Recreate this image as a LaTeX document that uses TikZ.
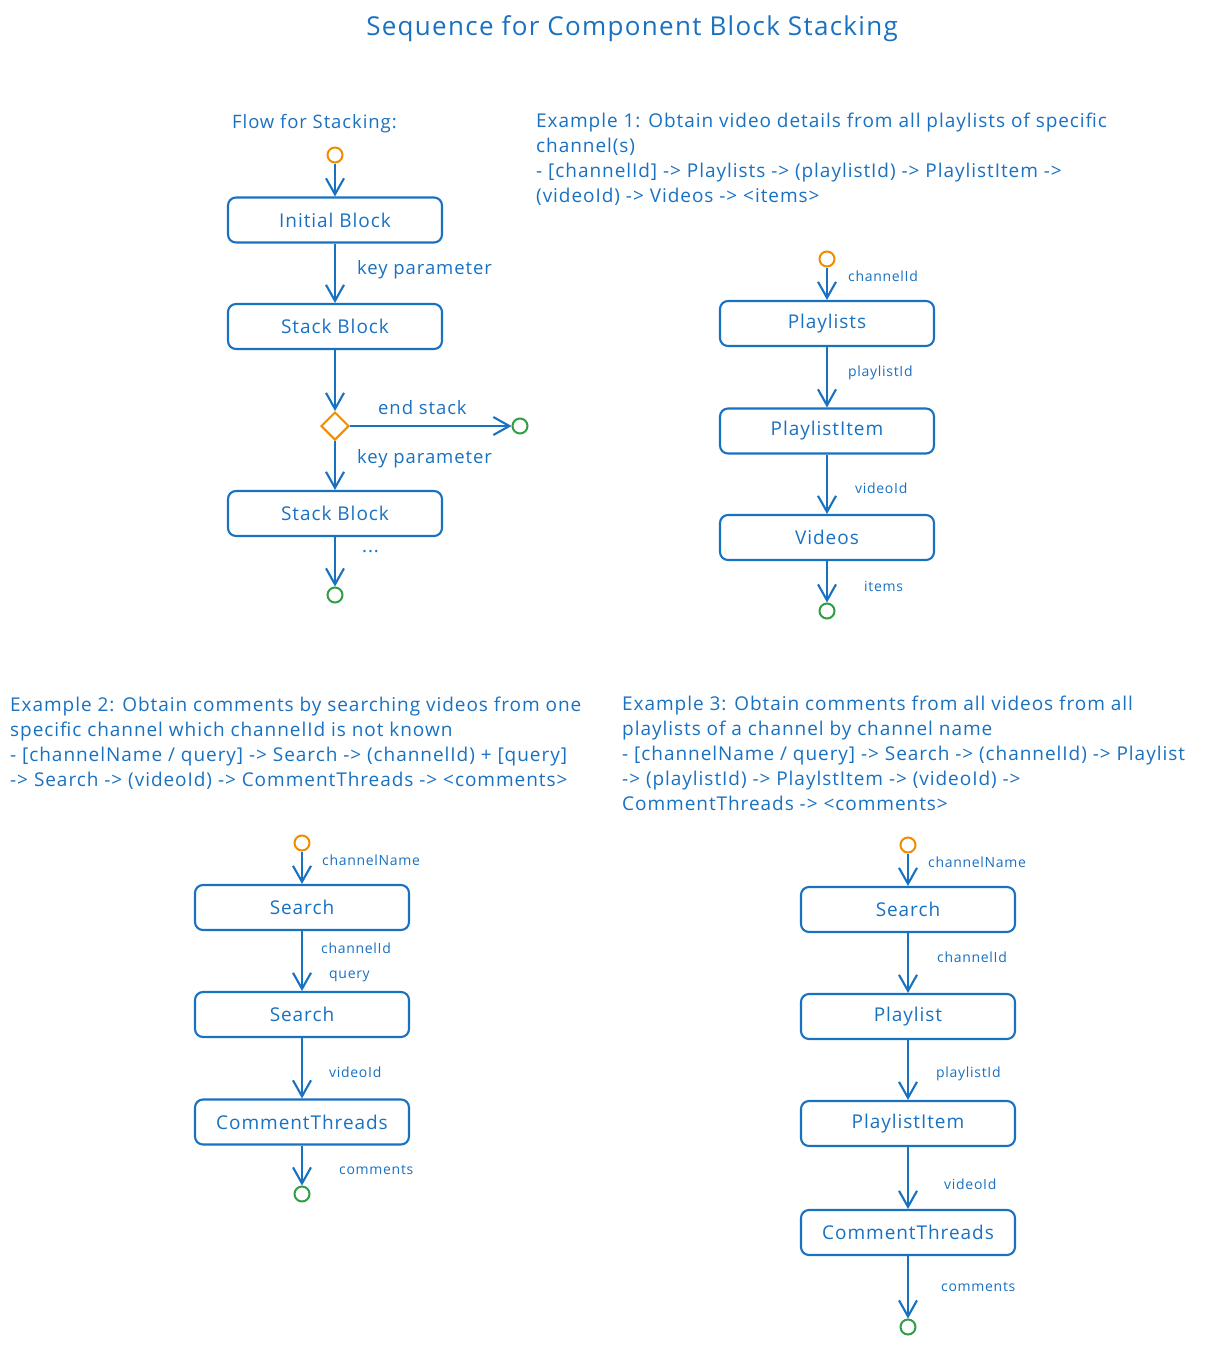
\documentclass[tikz,border=0pt]{standalone}
\usepackage{fontspec}
\setmainfont{Open Sans}[LetterSpace=5]
\usetikzlibrary{arrows.meta,shapes.geometric}
\definecolor{exblue}{HTML}{1971C2}
\definecolor{exorange}{HTML}{F08C00}
\definecolor{exgreen}{HTML}{2F9E44}
\begin{document}
\begin{tikzpicture}[x=1pt,y=-1pt,
 block/.style={draw=exblue, line width=2.1pt, rounded corners=8pt, minimum width=214pt, minimum height=45pt, inner sep=0pt, text=exblue, font=\fontsize{19}{22}\selectfont},
 startc/.style={circle, draw=exorange, line width=2pt, minimum size=15pt, inner sep=0pt},
 endc/.style={circle, draw=exgreen, line width=2pt, minimum size=15pt, inner sep=0pt},
 decision/.style={diamond, draw=exorange, line width=2pt, minimum width=28pt, minimum height=28pt, inner sep=0pt},
 flow/.style={draw=exblue, line width=2.1pt, -{Straight Barb[length=16pt, width=18pt, line width=2.1pt]}},
 lbl/.style={text=exblue, anchor=west, inner sep=0pt, font=\fontsize{18.5}{22}\selectfont},
 slbl/.style={text=exblue, anchor=west, inner sep=0pt, font=\fontsize{14}{17}\selectfont},
 para/.style={text=exblue, anchor=north west, inner sep=0pt, align=left, font=\fontsize{19}{25}\selectfont}]
\fill[white] (0,0) rectangle (1216,1345);
\useasboundingbox (0,0) rectangle (1216,1345);

% title
\node[text=exblue, font=\fontsize{26}{30}\selectfont] (title) at (632,29) {Sequence for Component Block Stacking};

% ---- Flow for stacking ----
\node[lbl, anchor=west] (flowt) at (232,124) {Flow for Stacking:};
\node[startc] (f0) at (335,155) {};
\node[block] (fib) at (335,220) {Initial Block};
\node[block] (fsb1) at (335,326.5) {Stack Block};
\node[decision] (fd) at (335,426) {};
\node[endc] (fe0) at (520,426) {};
\node[block] (fsb2) at (335,513.5) {Stack Block};
\node[endc] (fe1) at (335,595) {};
\draw[flow] (f0) -- (fib);
\draw[flow] (fib) -- (fsb1);
\draw[flow] (fsb1) -- (fd);
\draw[flow] (fd) -- (fe0);
\draw[flow] (fd) -- (fsb2);
\draw[flow] (fsb2) -- (fe1);
\node[lbl] (fl1) at (357,270) {key parameter};
\node[lbl] (fl2) at (378,408) {end stack};
\node[lbl] (fl3) at (357,459) {key parameter};
\node[lbl] (fl4) at (362,552) {...};

% ---- Example 1 ----
\node[para] (ex1) at (536,113) {Example 1: Obtain video details from all playlists of specific\\channel(s)\\- [channelId] -> Playlists -> (playlistId) -> PlaylistItem ->\\(videoId) -> Videos -> <items>};
\node[startc] (a0) at (827,259) {};
\node[block] (a1) at (827,323.5) {Playlists};
\node[block] (a2) at (827,431) {PlaylistItem};
\node[block] (a3) at (827,537.5) {Videos};
\node[endc] (a4) at (827,611) {};
\draw[flow] (a0) -- (a1);
\draw[flow] (a1) -- (a2);
\draw[flow] (a2) -- (a3);
\draw[flow] (a3) -- (a4);
\node[slbl] (al1) at (848,276) {channelId};
\node[slbl] (al2) at (848,373) {playlistId};
\node[slbl] (al3) at (855,488) {videoId};
\node[slbl] (al4) at (864,586) {items};

% ---- Example 2 ----
\node[para] (ex2) at (10,697) {Example 2: Obtain comments by searching videos from one\\specific channel which channelId is not known\\- [channelName / query] -> Search -> (channelId) + [query]\\-> Search -> (videoId) -> CommentThreads -> <comments>};
\node[startc] (b0) at (302,843) {};
\node[block] (b1) at (302,907.5) {Search};
\node[block] (b2) at (302,1014.5) {Search};
\node[block] (b3) at (302,1122) {CommentThreads};
\node[endc] (b4) at (302,1194) {};
\draw[flow] (b0) -- (b1);
\draw[flow] (b1) -- (b2);
\draw[flow] (b2) -- (b3);
\draw[flow] (b3) -- (b4);
\node[slbl] (bl1) at (322,860) {channelName};
\node[slbl] (bl2) at (321,948) {channelId};
\node[slbl] (bl3) at (329,976) {query};
\node[slbl] (bl4) at (329,1072) {videoId};
\node[slbl] (bl5) at (339,1170) {comments};

% ---- Example 3 ----
\node[para] (ex3) at (622,696) {Example 3: Obtain comments from all videos from all\\playlists of a channel by channel name\\- [channelName / query] -> Search -> (channelId) -> Playlist\\-> (playlistId) -> PlaylstItem -> (videoId) ->\\CommentThreads -> <comments>};
\node[startc] (c0) at (908,845) {};
\node[block] (c1) at (908,909.5) {Search};
\node[block] (c2) at (908,1016.5) {Playlist};
\node[block] (c3) at (908,1123.5) {PlaylistItem};
\node[block] (c4) at (908,1232.5) {CommentThreads};
\node[endc] (c5) at (908,1327) {};
\draw[flow] (c0) -- (c1);
\draw[flow] (c1) -- (c2);
\draw[flow] (c2) -- (c3);
\draw[flow] (c3) -- (c4);
\draw[flow] (c4) -- (c5);
\node[slbl] (cl1) at (928,862) {channelName};
\node[slbl] (cl2) at (937,957) {channelId};
\node[slbl] (cl3) at (936,1074) {playlistId};
\node[slbl] (cl4) at (944,1184) {videoId};
\node[slbl] (cl5) at (941,1287) {comments};
\end{tikzpicture}
\end{document}
